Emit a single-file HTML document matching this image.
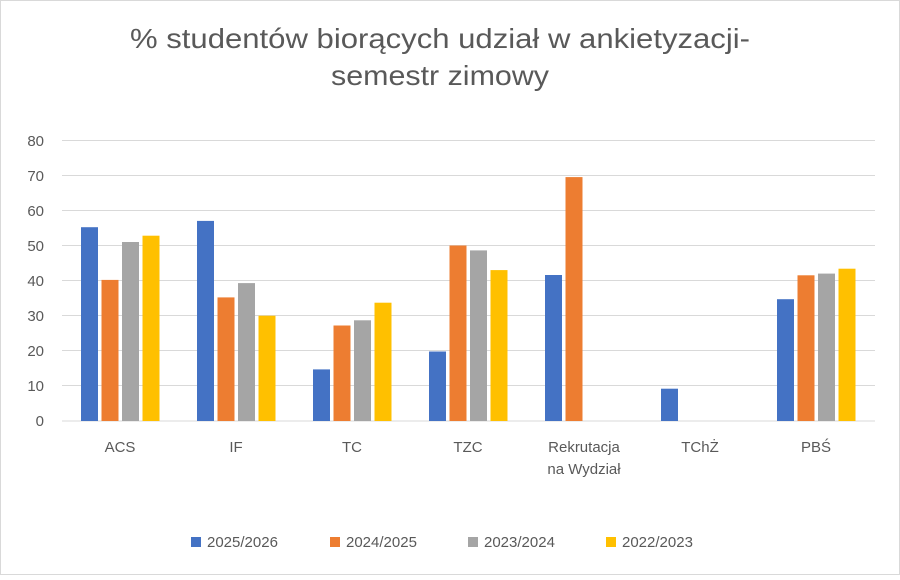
<!DOCTYPE html>
<html><head><meta charset="utf-8"><style>
body{margin:0;background:#fff;}
svg text{font-family:"Liberation Sans",sans-serif;}
</style></head><body>
<svg width="900" height="575" xmlns="http://www.w3.org/2000/svg">
<rect x="0.5" y="0.5" width="899" height="574" fill="#fff" stroke="#d9d9d9"/>
<text x="440" y="48" font-size="28" fill="#595959" text-anchor="middle" textLength="620" lengthAdjust="spacingAndGlyphs">% studentów biorących udział w ankietyzacji-</text>
<text x="440" y="85" font-size="28" fill="#595959" text-anchor="middle" textLength="218" lengthAdjust="spacingAndGlyphs">semestr zimowy</text>
<g stroke="#d9d9d9" stroke-width="1">
<line x1="62" x2="875" y1="140.5" y2="140.5"/><line x1="62" x2="875" y1="175.5" y2="175.5"/>
<line x1="62" x2="875" y1="210.5" y2="210.5"/><line x1="62" x2="875" y1="245.5" y2="245.5"/>
<line x1="62" x2="875" y1="280.5" y2="280.5"/><line x1="62" x2="875" y1="315.5" y2="315.5"/>
<line x1="62" x2="875" y1="350.5" y2="350.5"/><line x1="62" x2="875" y1="385.5" y2="385.5"/>
<line x1="62" x2="875" y1="421" y2="421"/>
</g>
<g font-size="15" fill="#595959" text-anchor="end">
<text x="44" y="146">80</text><text x="44" y="181">70</text><text x="44" y="216">60</text>
<text x="44" y="251">50</text><text x="44" y="286">40</text><text x="44" y="321">30</text>
<text x="44" y="356">20</text><text x="44" y="391">10</text><text x="44" y="426">0</text>
</g>
<g>
<rect x="81" y="227.2" width="17" height="193.8" fill="#4472c4"/>
<rect x="101.5" y="279.9" width="17" height="141.1" fill="#ed7d31"/>
<rect x="122" y="242" width="17" height="179" fill="#a5a5a5"/>
<rect x="142.5" y="235.7" width="17" height="185.3" fill="#ffc000"/>
<rect x="197" y="220.9" width="17" height="200.1" fill="#4472c4"/>
<rect x="217.5" y="297.4" width="17" height="123.6" fill="#ed7d31"/>
<rect x="238" y="283.1" width="17" height="137.9" fill="#a5a5a5"/>
<rect x="258.5" y="315.7" width="17" height="105.3" fill="#ffc000"/>
<rect x="313" y="369.4" width="17" height="51.6" fill="#4472c4"/>
<rect x="333.5" y="325.5" width="17" height="95.5" fill="#ed7d31"/>
<rect x="354" y="320.3" width="17" height="100.7" fill="#a5a5a5"/>
<rect x="374.5" y="302.7" width="17" height="118.3" fill="#ffc000"/>
<rect x="429" y="351.5" width="17" height="69.5" fill="#4472c4"/>
<rect x="449.5" y="245.5" width="17" height="175.5" fill="#ed7d31"/>
<rect x="470" y="250.4" width="17" height="170.6" fill="#a5a5a5"/>
<rect x="490.5" y="270.1" width="17" height="150.9" fill="#ffc000"/>
<rect x="545" y="275" width="17" height="146" fill="#4472c4"/>
<rect x="565.5" y="177.1" width="17" height="243.9" fill="#ed7d31"/>
<rect x="661" y="388.7" width="17" height="32.3" fill="#4472c4"/>
<rect x="777" y="299.2" width="17" height="121.8" fill="#4472c4"/>
<rect x="797.5" y="275.3" width="17" height="145.7" fill="#ed7d31"/>
<rect x="818" y="273.6" width="17" height="147.4" fill="#a5a5a5"/>
<rect x="838.5" y="268.7" width="17" height="152.3" fill="#ffc000"/>
</g>
<g font-size="15" fill="#595959" text-anchor="middle">
<text x="120" y="452">ACS</text><text x="236" y="452">IF</text><text x="352" y="452">TC</text>
<text x="468" y="452">TZC</text><text x="584" y="452">Rekrutacja</text><text x="584" y="474">na Wydział</text>
<text x="700" y="452">TChŻ</text><text x="816" y="452">PBŚ</text>
</g>
<g font-size="15" fill="#595959">
<rect x="191" y="537" width="10" height="10" fill="#4472c4"/><text x="207" y="547">2025/2026</text>
<rect x="330" y="537" width="10" height="10" fill="#ed7d31"/><text x="346" y="547">2024/2025</text>
<rect x="468" y="537" width="10" height="10" fill="#a5a5a5"/><text x="484" y="547">2023/2024</text>
<rect x="606" y="537" width="10" height="10" fill="#ffc000"/><text x="622" y="547">2022/2023</text>
</g>
</svg>
</body></html>
